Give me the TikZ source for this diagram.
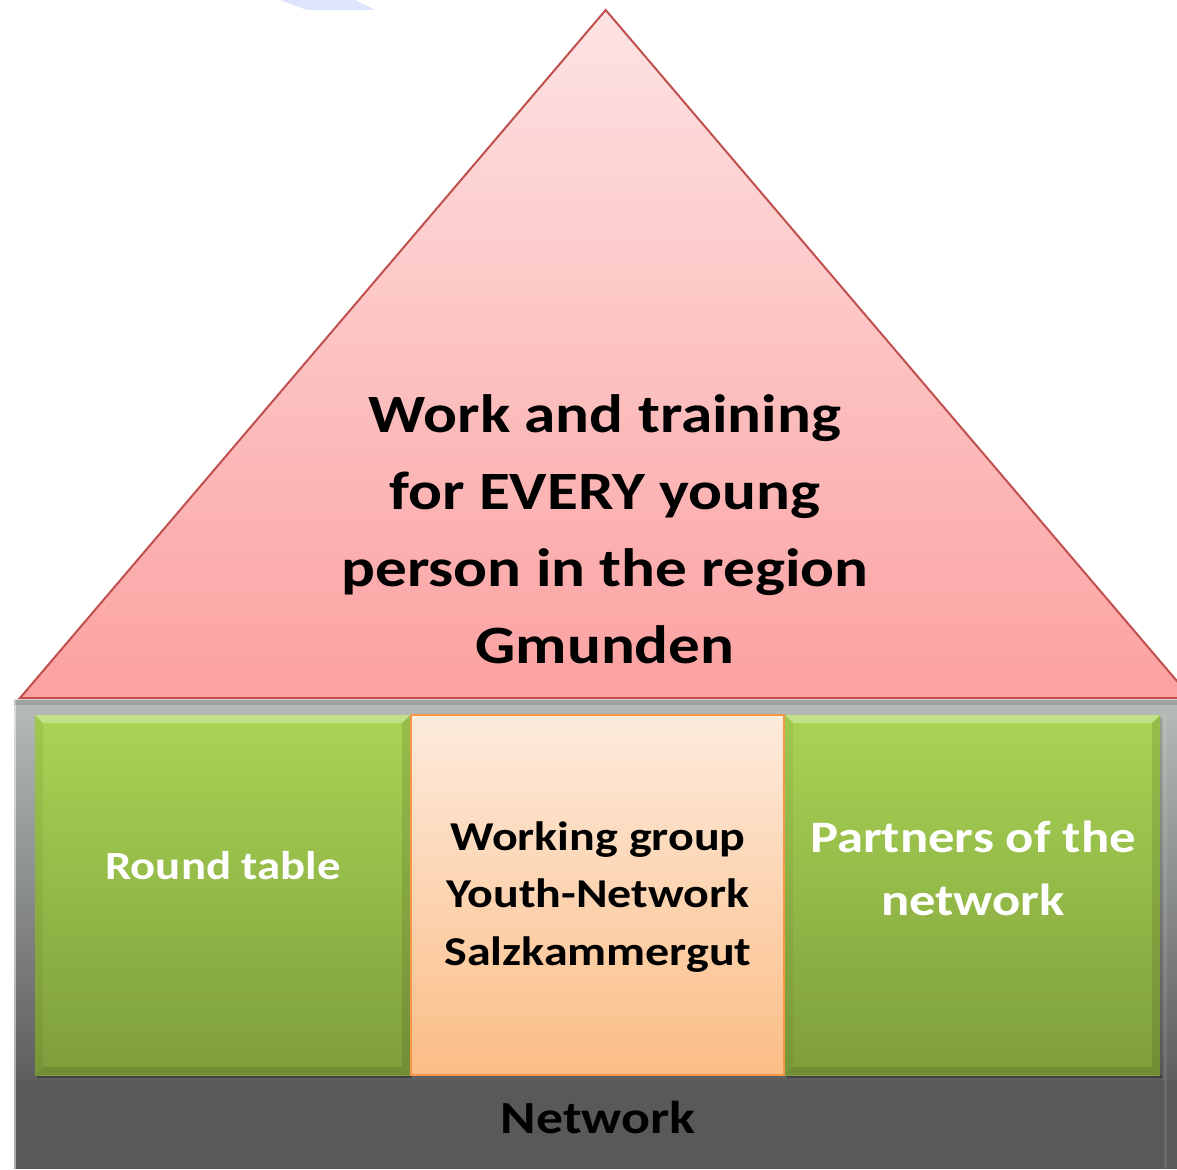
\documentclass[tikz,border=0pt]{standalone}
\usepackage{fontspec}
\setmainfont{Carlito}
\usetikzlibrary{shadings}
\definecolor{pinktop}{HTML}{FDE3E3}
\definecolor{pinkbot}{HTML}{FCA1A1}
\definecolor{redline}{HTML}{C0504D}
\definecolor{greytop}{HTML}{B5BCB8}
\definecolor{greybot}{HTML}{5E5E5E}
\definecolor{greydark}{HTML}{595959}
\definecolor{greentop}{HTML}{A9D454}
\definecolor{greenbot}{HTML}{7E9E3C}
\definecolor{orangetop}{HTML}{FDEBDC}
\definecolor{orangebot}{HTML}{FBBD86}
\definecolor{orangeline}{HTML}{F79646}
\definecolor{bluesliver}{HTML}{DDE4FB}
\tikzset{
  greenbox/.style={top color=greentop, bottom color=greenbot, draw=none},
  orangebox/.style={top color=orangetop, bottom color=orangebot, draw=orangeline, line width=2pt},
  roof/.style={top color=pinktop, bottom color=pinkbot, draw=redline, line width=2pt, line join=miter},
  bevellight/.style={fill=white, fill opacity=0.3, draw=none},
  beveldark/.style={fill=black, fill opacity=0.1, draw=none},
  titletext/.style={align=center, font=\bfseries\fontsize{54}{77}\selectfont, text=black, xscale=1.17, inner sep=0pt},
  boxtext/.style={align=center, font=\bfseries\fontsize{41}{57.5}\selectfont, xscale=1.17, inner sep=0pt},
}
\begin{document}
\begin{tikzpicture}[x=1pt,y=-1pt]
\useasboundingbox (0,0) rectangle (1177,1169);
\begin{scope}
\clip (0,0) rectangle (1177,1169);
% faint blue sliver at top
\fill[bluesliver] (280,0) -- (307,10) -- (375,10) -- (355,0) -- cycle;
% grey base
\fill[greydark] (14,700) rectangle (1177,1169);
\shade[top color=greytop, bottom color=greybot] (14,700) rectangle (1177,1080);
\fill[white, opacity=0.5] (14,700) rectangle (16,1169);
\fill[white, opacity=0.1] (1164,715) rectangle (1167,1169);
% shadow under roof
\fill[black, opacity=0.12] (14,699) rectangle (1177,705);
% roof
\path[roof] (20,698) -- (605.7,10) -- (1191.4,698) -- cycle;
% green boxes
\fill[black, opacity=0.3] (37,1075) rectangle (412,1078);
\fill[black, opacity=0.3] (787,1075) rectangle (1162,1078);
\fill[black, opacity=0.15] (1160,718) rectangle (1162,1078);
\shade[greenbox] (35,715) rectangle (410,1075);
\shade[greenbox] (785,715) rectangle (1160,1075);
\foreach \xa/\xb in {35/410, 785/1160}{
  \fill[bevellight] (\xa,715) -- (\xb,715) -- (\xb-8,723) -- (\xa+8,723) -- cycle;
  \fill[beveldark] (\xb,715) -- (\xb,1075) -- (\xb-8,1067) -- (\xb-8,723) -- cycle;
  \fill[beveldark] (\xa,1075) -- (\xb,1075) -- (\xb-8,1067) -- (\xa+8,1067) -- cycle;
  \fill[beveldark, fill opacity=0.05] (\xa,715) -- (\xa+8,723) -- (\xa+8,1067) -- (\xa,1075) -- cycle;
}
% orange box
\shade[orangebox] (411,715) rectangle (784,1075);
\end{scope}
% texts
\node[titletext] (title) at (605,529) {Work and training\\for EVERY young\\person in the region\\Gmunden};
\node[boxtext, text=white, font=\bfseries\fontsize{40}{57.5}\selectfont] (round) at (223,866) {Round table};
\node[boxtext, text=black] (wg) at (598,897) {Working group\\Youth-Network\\Salzkammergut};
\node[boxtext, text=white, font=\bfseries\fontsize{45}{63}\selectfont] (partners) at (973,868) {Partners of the\\network};
\node[boxtext, text=black, font=\bfseries\fontsize{46}{57.5}\selectfont] (network) at (598,1118) {Network};
\end{tikzpicture}
\end{document}
